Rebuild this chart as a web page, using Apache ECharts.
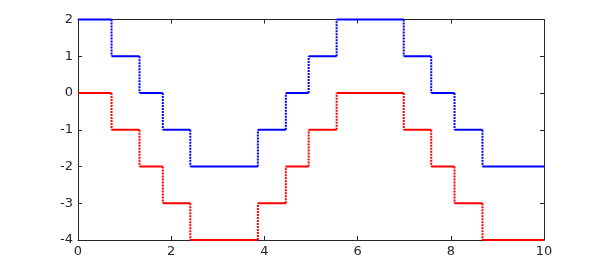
<!DOCTYPE html>
<html><head><meta charset="utf-8">
<script src="https://cdn.jsdelivr.net/npm/echarts@6/dist/echarts.min.js"></script>
<style>html,body{margin:0;padding:0;background:#fff}#c{width:600px;height:270px}</style>
</head><body><div id="c"></div>
<script>
// step edges (x) and levels of the stairs
var stepEdges = [0, 0.72, 1.32, 1.82, 2.41, 3.86, 4.46, 4.95, 5.55, 6.99, 7.58, 8.08, 8.68, 10];
var blueLevels = [2, 1, 0, -1, -2, -1, 0, 1, 2, 1, 0, -1, -2];
var redLevels = [0, -1, -2, -3, -4, -3, -2, -1, 0, -1, -2, -3, -4];
var xTicks = [0, 2, 4, 6, 8, 10];
var yTicks = [-4, -3, -2, -1, 0, 1, 2];

function horiz(levels) {
  var out = [];
  for (var i = 0; i < levels.length; i++) out.push([stepEdges[i], stepEdges[i + 1], levels[i]]);
  return out;
}
function vert(levels) {
  var out = [];
  for (var i = 1; i < levels.length; i++) out.push([stepEdges[i], levels[i - 1], levels[i]]);
  return out;
}
function hSeries(levels, color) {
  return {
    type: 'custom', data: horiz(levels), xAxisIndex: 0, yAxisIndex: 0, z: 3,
    encode: {x: [0, 1], y: 2},
    renderItem: function (params, api) {
      var a = api.coord([api.value(0), api.value(2)]);
      var b = api.coord([api.value(1), api.value(2)]);
      return {type: 'line', shape: {x1: a[0], y1: a[1], x2: b[0], y2: b[1]},
        style: {stroke: color, lineWidth: 2}};
    }
  };
}
function vSeries(levels, color) {
  return {
    type: 'custom', data: vert(levels), xAxisIndex: 0, yAxisIndex: 0, z: 3,
    encode: {x: 0, y: [1, 2]},
    renderItem: function (params, api) {
      var a = api.coord([api.value(0), api.value(1)]);
      var b = api.coord([api.value(0), api.value(2)]);
      return {type: 'line', shape: {x1: a[0], y1: a[1], x2: b[0], y2: b[1]},
        style: {stroke: color, lineWidth: 2, lineDash: [2, 1]}};
    }
  };
}
function axisCommon() {
  return {
    axisLine: {show: true, onZero: false, lineStyle: {color: '#262626', width: 1}},
    axisTick: {show: true, inside: true, length: 4, lineStyle: {color: '#262626'}},
    splitLine: {show: false}
  };
}
var chart = echarts.init(document.getElementById('c'), null, {renderer: 'canvas'});
chart.setOption({
  animation: false,
  grid: {left: 78, right: 56, top: 19.5, bottom: 30, containLabel: false},
  xAxis: [
    Object.assign({type: 'value', min: 0, max: 10, interval: 2, position: 'bottom',
      axisLabel: {color: '#262626', fontSize: 13, fontFamily: 'DejaVu Sans', margin: 5,
        formatter: function (v) { return xTicks.indexOf(v) >= 0 ? String(v) : ''; }}}, axisCommon()),
    Object.assign({type: 'value', min: 0, max: 10, interval: 2, position: 'top',
      axisLabel: {show: false}}, axisCommon())
  ],
  yAxis: [
    Object.assign({type: 'value', min: -4, max: 2, interval: 1, position: 'left',
      axisLabel: {color: '#262626', fontSize: 13, fontFamily: 'DejaVu Sans', margin: 5,
        formatter: function (v) { return yTicks.indexOf(v) >= 0 ? String(v) : ''; }}}, axisCommon()),
    Object.assign({type: 'value', min: -4, max: 2, interval: 1, position: 'right',
      axisLabel: {show: false}}, axisCommon())
  ],
  series: [
    hSeries(blueLevels, '#0000ff'), vSeries(blueLevels, '#0000ff'),
    hSeries(redLevels, '#ff0000'), vSeries(redLevels, '#ff0000')
  ]
});
</script></body></html>
